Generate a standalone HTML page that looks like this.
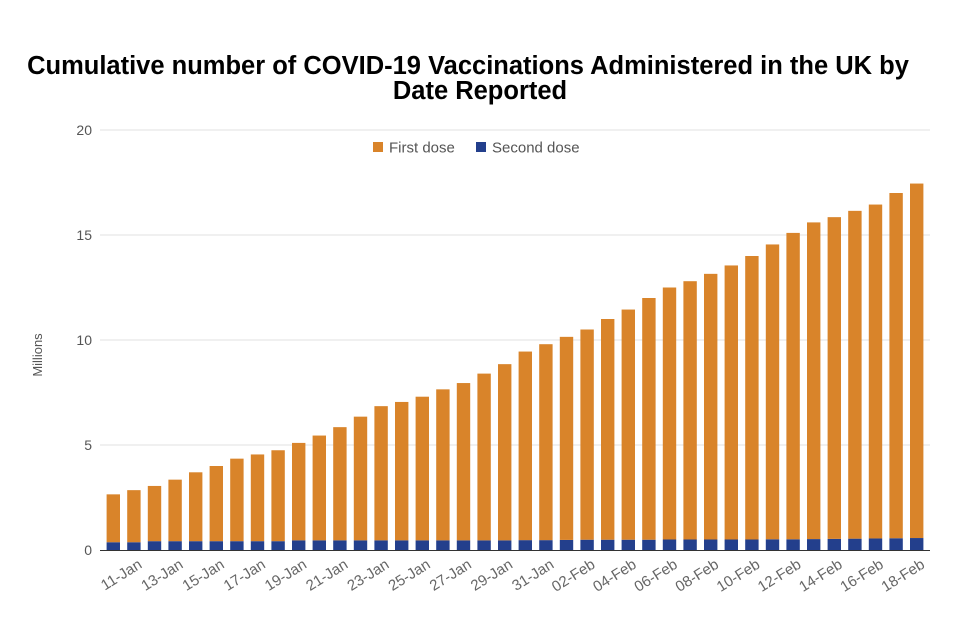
<!DOCTYPE html>
<html><head><meta charset="utf-8"><style>
body{margin:0;background:#fff;}
svg{display:block;font-family:"Liberation Sans",Arial,sans-serif;}
</style></head><body>
<svg id="chart" width="960" height="640">
<text x="468" y="74" text-anchor="middle" font-size="25.5" font-weight="bold" fill="#000">Cumulative number of COVID-19 Vaccinations Administered in the UK by</text>
<text x="480" y="99" text-anchor="middle" font-size="25.5" font-weight="bold" fill="#000">Date Reported</text>
<g>
<rect x="373" y="142" width="10" height="10" fill="#d9842a"/>
<text x="389" y="152.5" font-size="15" fill="#555">First dose</text>
<rect x="476" y="142" width="10" height="10" fill="#233f8c"/>
<text x="492" y="152.5" font-size="15" fill="#555">Second dose</text>
</g>
<text transform="translate(42,355) rotate(-90)" text-anchor="middle" font-size="13" fill="#555">Millions</text>
<g id="grid"></g><g id="bars"></g><g id="xlabels"></g>
</svg>
<script>
const dates=["10-Jan","11-Jan","12-Jan","13-Jan","14-Jan","15-Jan","16-Jan","17-Jan","18-Jan","19-Jan","20-Jan","21-Jan","22-Jan","23-Jan","24-Jan","25-Jan","26-Jan","27-Jan","28-Jan","29-Jan","30-Jan","31-Jan","01-Feb","02-Feb","03-Feb","04-Feb","05-Feb","06-Feb","07-Feb","08-Feb","09-Feb","10-Feb","11-Feb","12-Feb","13-Feb","14-Feb","15-Feb","16-Feb","17-Feb","18-Feb"];
const secondDose=[0.37,0.37,0.42,0.42,0.42,0.42,0.42,0.42,0.42,0.46,0.46,0.46,0.46,0.46,0.46,0.46,0.46,0.46,0.46,0.46,0.47,0.47,0.48,0.49,0.49,0.49,0.49,0.5,0.5,0.5,0.5,0.5,0.51,0.51,0.52,0.53,0.54,0.55,0.56,0.57];
const firstDose=[2.28,2.48,2.63,2.93,3.28,3.58,3.93,4.13,4.33,4.64,4.99,5.39,5.89,6.39,6.59,6.84,7.19,7.49,7.94,8.39,8.98,9.33,9.67,10.01,10.51,10.96,11.51,12.0,12.3,12.65,13.05,13.5,14.04,14.59,15.08,15.32,15.61,15.9,16.44,16.88];
const yTicks=[0,5,10,15,20];
const NS="http://www.w3.org/2000/svg";
const y0=550,pxPer=21,x0=113.3,pitch=20.6,bw=13.4;
const yScale=v=>y0-v*pxPer;
const xScale=i=>x0+i*pitch;
function mk(t,attrs,parent){const e=document.createElementNS(NS,t);for(const k in attrs)e.setAttribute(k,attrs[k]);parent.appendChild(e);return e;}
const grid=document.getElementById('grid'),bars=document.getElementById('bars'),xl=document.getElementById('xlabels');
yTicks.forEach(t=>{
 if(t>0){const l=mk('line',{x1:100,x2:930,y1:yScale(t),y2:yScale(t),stroke:'#e0e0e0','stroke-width':1},grid);
 
 }
 const tx=mk('text',{x:92,y:yScale(t)+5,'text-anchor':'end','font-size':14,fill:'#555'},grid);
 tx.textContent=t;
 
 
});
dates.forEach((d,i)=>{
 const cx=xScale(i);
 const s=mk('rect',{x:cx-bw/2,y:yScale(secondDose[i]),width:bw,height:secondDose[i]*pxPer,fill:'#233f8c'},bars);
 
 
 const tot=secondDose[i]+firstDose[i];
 const f=mk('rect',{x:cx-bw/2,y:yScale(tot),width:bw,height:firstDose[i]*pxPer,fill:'#d9842a'},bars);
 
 
 if(i%2===1){
  const t=mk('text',{transform:`translate(${cx+9},${567}) rotate(-32)`,'text-anchor':'end','font-size':15,fill:'#666'},xl);
  t.textContent=d;
  
  
 }
});
const ax=mk('line',{x1:100,x2:930,y1:y0+0.5,y2:y0+0.5,stroke:'#333','stroke-width':1},grid);


</script>
</body></html>
